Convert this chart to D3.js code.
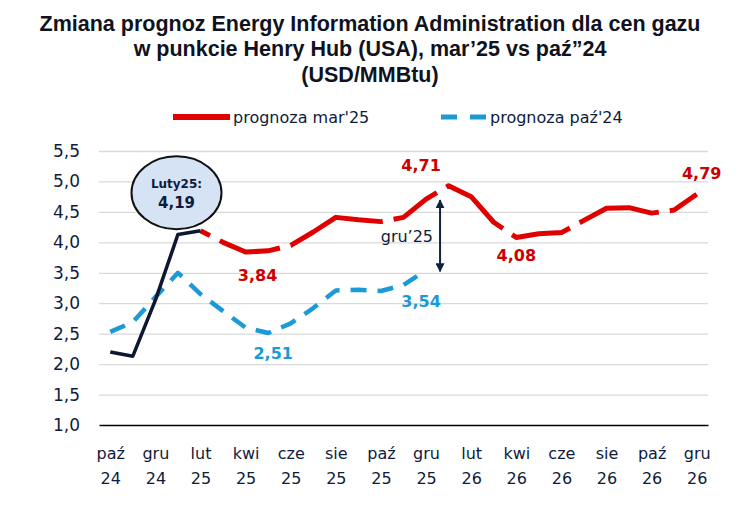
<!DOCTYPE html>
<html>
<head>
<meta charset="utf-8">
<script src="https://cdn.jsdelivr.net/npm/d3@7"></script>
<style>
    body { margin: 0; background: #ffffff; }
    svg text { font-family: "DejaVu Sans", sans-serif; fill: #0e1b3d; }
    .title { font-family: "Liberation Sans", Arial, sans-serif; font-weight: bold; font-size: 21.5px; fill: #0f1220; }
    .grid line { stroke: #d9d9d9; stroke-width: 1.3; }
    .y-axis text { font-size: 17px; }
    .x-axis text { font-size: 16px; }
    .legend-text { font-size: 16px; }
    .value-label { font-weight: bold; font-size: 16px; }
</style>
</head>
<body>
<svg id="chart" width="740" height="518"></svg>
<script>
// months on the category axis (paź 24 .. gru 26)
var months = ["paź 24", "lis 24", "gru 24", "sty 25", "lut 25", "mar 25", "kwi 25", "maj 25", "cze 25",
    "lip 25", "sie 25", "wrz 25", "paź 25", "lis 25", "gru 25", "sty 26", "lut 26", "mar 26",
    "kwi 26", "maj 26", "cze 26", "lip 26", "sie 26", "wrz 26", "paź 26", "lis 26", "gru 26"];
var tickMonths = ["paź 24", "gru 24", "lut 25", "kwi 25", "cze 25", "sie 25", "paź 25",
    "gru 25", "lut 26", "kwi 26", "cze 26", "sie 26", "paź 26", "gru 26"];
var yTicks = [1.0, 1.5, 2.0, 2.5, 3.0, 3.5, 4.0, 4.5, 5.0, 5.5];

// actual prices paź 24 - lut 25
var actualMonths = ["paź 24", "lis 24", "gru 24", "sty 25", "lut 25"];
var actualValues = [2.20, 2.13, 3.05, 4.13, 4.19];

// forecast mar'25 (lut 25 - gru 26)
var marMonths = months.slice(4);
var marValues = [4.19, 4.00, 3.84, 3.86, 3.95, 4.17, 4.41, 4.37, 4.34, 4.41, 4.71, 4.93,
    4.75, 4.33, 4.08, 4.14, 4.16, 4.36, 4.56, 4.57, 4.48, 4.53, 4.79];

// forecast paź'24 (paź 24 - gru 25)
var pazMonths = months.slice(0, 15);
var pazValues = [2.53, 2.69, 3.10, 3.50, 3.15, 2.87, 2.60, 2.51, 2.67, 2.92, 3.21, 3.22, 3.20, 3.30, 3.54];

// where the red dashed line breaks (fractional month index)
var redGapAt = [4.42, 7.52, 12.08, 14.48, 17.41, 20.38, 24.32];

var titleLines = ["Zmiana prognoz Energy Information Administration dla cen gazu",
    "w punkcie Henry Hub (USA), mar’25 vs paź”24",
    "(USD/MMBtu)"];

var svgWidth = 740;
var svgHeight = 518;
var chartMargin = { top: 151, right: 32, bottom: 93, left: 99 };
var chartWidth = svgWidth - chartMargin.left - chartMargin.right;
var chartHeight = svgHeight - chartMargin.top - chartMargin.bottom;

var red = "#e00000";
var redText = "#cc0000";
var blue = "#1a9ad6";
var navy = "#0d1633";

var fmt = function (v) { return d3.format(".1f")(v).replace(".", ","); };
var fmt2 = function (v) { return d3.format(".2f")(v).replace(".", ","); };

var svg = d3.select("#chart");

// title
svg.append("g").selectAll("text")
    .data(titleLines)
    .enter()
    .append("text")
    .attr("class", "title")
    .attr("x", svgWidth / 2)
    .attr("y", (d, i) => 30.5 + i * 25.5)
    .attr("text-anchor", "middle")
    .text(d => d);

// legend
var legend = svg.append("g").attr("transform", "translate(0, 117)");
legend.append("line")
    .attr("x1", 173).attr("x2", 230)
    .attr("stroke", red).attr("stroke-width", 6);
legend.append("text")
    .attr("class", "legend-text")
    .attr("x", 233).attr("y", 5.5)
    .text("prognoza mar'25");
legend.append("line")
    .attr("x1", 441).attr("x2", 486)
    .attr("stroke", blue).attr("stroke-width", 5)
    .attr("stroke-dasharray", "16 13");
legend.append("text")
    .attr("class", "legend-text")
    .attr("x", 490).attr("y", 5.5)
    .text("prognoza paź'24");

var chartGroup = svg.append("g")
    .attr("transform", `translate(${chartMargin.left}, ${chartMargin.top})`);

var xScale = d3.scalePoint().domain(months).range([0, chartWidth]).padding(0.5);
var yScale = d3.scaleLinear().domain([1, 5.5]).range([chartHeight, 0]);

// gridlines + y labels
var leftAxis = d3.axisLeft(yScale)
    .tickValues(yTicks)
    .tickSize(-chartWidth)
    .tickPadding(19)
    .tickFormat(fmt);
var yAxis = chartGroup.append("g")
    .attr("class", "grid y-axis")
    .call(leftAxis);
yAxis.select(".domain").remove();
yAxis.selectAll(".tick line").filter(d => d === 1).remove();

// bottom axis with two-line month labels
var bottomAxis = d3.axisBottom(xScale).tickValues(tickMonths).tickSize(0).tickSizeOuter(0);
var xAxis = chartGroup.append("g")
    .attr("class", "x-axis")
    .attr("transform", `translate(0, ${chartHeight})`)
    .call(bottomAxis);
xAxis.select(".domain").attr("stroke", "#000").attr("stroke-width", 1.5);
xAxis.selectAll(".tick text").each(function (d) {
    var parts = d.split(" ");
    var t = d3.select(this).text(null).attr("y", 0).attr("dy", null);
    t.append("tspan").attr("x", 0).attr("y", 33.5).text(parts[0]);
    t.append("tspan").attr("x", 0).attr("y", 58.5).text(parts[1]);
});

var lineGen = d3.line()
    .x(d => xScale(d.m))
    .y(d => yScale(d.v));

var zip = function (ms, vs) { return ms.map((m, i) => ({ m: m, v: vs[i] })); };

// paź'24 forecast (blue dashed)
chartGroup.append("path")
    .datum(zip(pazMonths, pazValues))
    .attr("d", lineGen)
    .attr("fill", "none")
    .attr("stroke", blue)
    .attr("stroke-width", 4.5)
    .attr("stroke-linejoin", "round")
    .attr("stroke-dasharray", "16 11");

// mar'25 forecast (red, broken line)
var redPath = chartGroup.append("path")
    .datum(zip(marMonths, marValues))
    .attr("d", lineGen)
    .attr("fill", "none")
    .attr("stroke", red)
    .attr("stroke-width", 5)
    .attr("stroke-linejoin", "round");

var node = redPath.node();
var total = node.getTotalLength();
var gapLen = 11;
var x0 = xScale(months[0]);
var step = xScale.step();
var dashes = [];
var pos = 0;
redGapAt.forEach(function (g) {
    var gx = x0 + g * step;
    var lo = 0, hi = total;
    for (var k = 0; k < 30; k++) { // binary search along the path for the x position
        var mid = (lo + hi) / 2;
        if (node.getPointAtLength(mid).x < gx) lo = mid; else hi = mid;
    }
    dashes.push(lo - pos, gapLen);
    pos = lo + gapLen;
});
dashes.push(total - pos + 2, 0);
redPath.attr("stroke-dasharray", dashes.join(" "));

// actual prices (navy solid)
chartGroup.append("path")
    .datum(zip(actualMonths, actualValues))
    .attr("d", lineGen)
    .attr("fill", "none")
    .attr("stroke", navy)
    .attr("stroke-width", 3.5)
    .attr("stroke-linejoin", "round");

// value labels
var labels = [
    { m: "kwi 25", v: 3.84, dx: 12, dy: 29, c: redText },
    { m: "maj 25", v: 2.51, dx: 5, dy: 26, c: blue },
    { m: "gru 25", v: 4.71, dx: -5, dy: -28, c: redText },
    { m: "gru 25", v: 3.54, dx: -5, dy: 37, c: blue },
    { m: "kwi 26", v: 4.08, dx: 0, dy: 24, c: redText },
    { m: "gru 26", v: 4.79, dx: 5, dy: -15, c: redText }
];
chartGroup.append("g").selectAll("text")
    .data(labels)
    .enter()
    .append("text")
    .attr("class", "value-label")
    .attr("x", d => xScale(d.m) + d.dx)
    .attr("y", d => yScale(d.v) + d.dy)
    .attr("text-anchor", "middle")
    .style("fill", d => d.c)
    .text(d => fmt2(d.v));

// callout bubble for lut 25
var lutX = xScale("lut 25");
var lutY = yScale(actualValues[4]);
var bubble = chartGroup.append("g")
    .attr("transform", `translate(${lutX - 24}, ${lutY - 38})`);
bubble.append("ellipse")
    .attr("rx", 45).attr("ry", 36.5)
    .attr("fill", "#d5e3f5")
    .attr("stroke", "#111")
    .attr("stroke-width", 2);
bubble.append("text")
    .attr("y", -5)
    .attr("text-anchor", "middle")
    .style("font-weight", "bold").style("font-size", "12px")
    .text("Luty25:");
bubble.append("text")
    .attr("y", 15)
    .attr("text-anchor", "middle")
    .style("font-weight", "bold").style("font-size", "15px")
    .text(fmt2(actualValues[4]));

// double arrow gru'25 gap
var defs = svg.append("defs");
defs.append("marker")
    .attr("id", "arrowHead")
    .attr("viewBox", "0 0 10 10")
    .attr("refX", 9).attr("refY", 5)
    .attr("markerWidth", 4.5).attr("markerHeight", 4.5)
    .attr("orient", "auto-start-reverse")
    .append("path")
    .attr("d", "M0,0 L10,5 L0,10 z")
    .attr("fill", "#0d2340");

var arrowX = xScale("gru 25") + 14;
chartGroup.append("line")
    .attr("x1", arrowX).attr("x2", arrowX)
    .attr("y1", yScale(4.71) + 1)
    .attr("y2", yScale(3.54) + 1)
    .attr("stroke", "#0d2340")
    .attr("stroke-width", 2)
    .attr("marker-start", "url(#arrowHead)")
    .attr("marker-end", "url(#arrowHead)");
chartGroup.append("text")
    .attr("x", arrowX - 7)
    .attr("y", (yScale(4.71) + yScale(3.54)) / 2 + 7)
    .attr("text-anchor", "end")
    .style("font-size", "16px")
    .text("gru’25");
</script>
</body>
</html>
